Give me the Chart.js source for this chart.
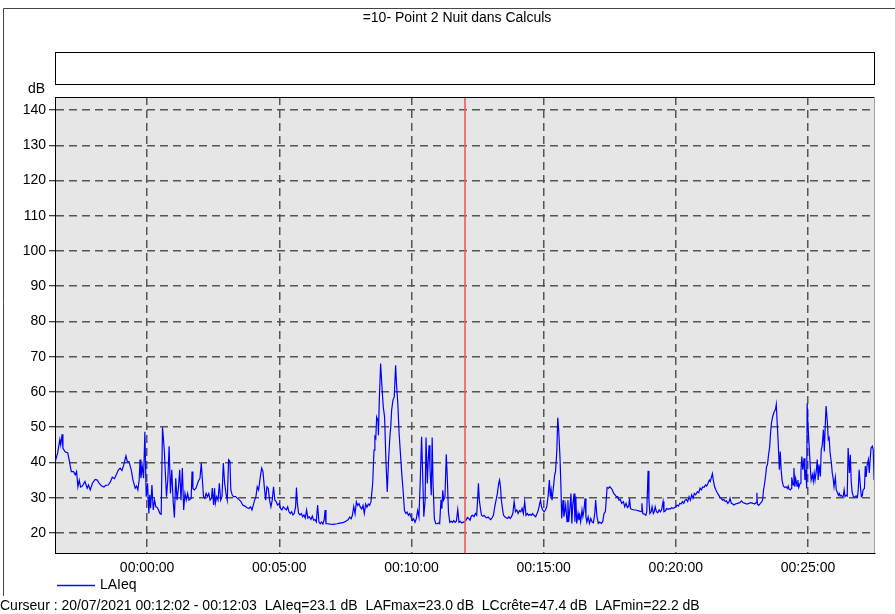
<!DOCTYPE html>
<html>
<head>
<meta charset="utf-8">
<script src="https://cdn.jsdelivr.net/npm/chart.js@4.4.0/dist/chart.umd.min.js"></script>
<style>
  html, body { margin: 0; padding: 0; background: #fff; }
  #wrap { width: 895px; height: 614px; }
</style>
</head>
<body>
<div id="wrap"><canvas id="myChart" width="895" height="614"></canvas></div>
<script>
// time in seconds from 00:00:00
var times = [
  -209,-203,-198,-196,-193,-191,-186,-180,-177,-172,
  -167,-163,-160,-157,-154,-151,-147,-141,-136,-133,
  -129,-124,-118,-113,-109,-103,-98,-94,-88,-83,
  -79,-74,-70,-65,-61,-57,-53,-48,-45,-41,
  -36,-32,-27,-24,-21,-18,-16,-14,-11,-8,
  -5,-2,1,4,6,8,11,14,17,20,
  23,26,29,32,35,39,44,47,50,53,
  56,59,62,65,68,71,74,77,80,83,
  86,89,92,95,
  100,102,104,107,111,116,120,123,126,128,
  131,134,137,140,143,146,148,151,153,155,
  158,161,164,167,170,173,176,179,182,185,
  188,190,193,196,201,205,210,213,217,222,
  226,231,235,238,241,244,247,250,253,257,
  260,263,266,269,272,275,278,281,284,287,
  290,293,296,300,303,306,309,313,316,319,
  322,325,328,331,334,337,339,341,344,347,
  350,353,356,359,362,365,368,372,375,378,
  381,384,387,390,393,396,399,402,404,406,
  411,415,
  423,431,438,446,451,456,460,463,466,469,
  472,475,478,481,484,487,490,493,496,499,
  502,505,508,512,515,517,519,521,524,525,
  527,530,533,536,539,542,545,548,551,553,
  555,558,561,564,566,569,572,575,578,581,
  584,587,590,593,596,599,602,605,608,611,
  614,617,620,623,626,628,631,633,636,638,
  640,642,645,647,649,652,655,658,661,664,
  667,669,671,673,676,679,681,684,687,690,
  693,696,699,702,705,708,711,714,717,722,
  724,727,730,733,736,739,742,745,748,750,
  752,754,757,759,762,765,768,771,774,777,
  780,783,786,789,792,795,798,800,802,804,
  807,809,812,815,818,821,824,827,830,833,
  836,839,842,845,848,851,854,857,860,863,
  866,869,872,875,878,882,885,888,891,893,
  895,898,901,904,907,910,913,915,917,919,
  922,925,927,930,932,934,937,939,941,944,
  946,948,950,953,955,957,959,962,964,966,
  969,971,973,975,978,980,982,984,987,989,
  991,994,996,998,1001,1004,1007,1010,1013,1016,
  1018,1021,1024,1027,
  1031,1034,1037,1040,1042,1044,1047,1050,1053,1056,
  1059,1062,1065,1068,1071,1074,1077,1081,1084,1087,
  1090,1093,1095,1097,1100,1105,1109,1114,1118,1121,
  1123,1125,1129,1132,1134,1137,1139,1141,1144,1146,
  1149,1151,1153,1156,1159,1162,1165,1168,1171,1173,
  1176,1179,1182,1185,1188,1191,1194,1197,1200,1203,
  1206,1209,1212,1215,1218,1221,1224,1227,1230,1233,
  1236,1239,1242,1245,1249,1252,1255,1258,1261,1264,
  1267,1270,1273,1276,1278,1280,1283,1285,1288,1291,
  1294,1297,1300,1303,1306,1309,1312,1315,1318,1321,
  1323,1326,1329,1332,1335,
  1340,1345,1349,1352,1357,1361,1366,1370,1375,1379,
  1382,1384,1385,1388,1392,1395,1397,1399,1401,1404,
  1406,1408,1410,1413,1415,1417,1420,1423,1426,1428,
  1430,1432,1435,1437,1439,1441,1444,1447,1450,1453,
  1455,1457,1460,1462,1463,1466,1468,1470,1472,1475,
  1477,1479,1482,1484,1486,1488,1491,1493,1495,1497,
  1498,1500,1503,1505,1507,1510,1512,1514,1516,1519,
  1521,1523,1525,1528,1530,1532,1535,1537,1539,1541,
  1544,1546,1548,1550,1553,1555,1557,1559,1562,1564,
  1566,1569,1571,1573,1575,1578,1580,1582,1584,1587,
  1589,1591,1594,1596,1598,1600,1603,1605,1607,1609,
  1612,1614,1616,1619,1621,1623,1625,1628,1630,1632,
  1634,1637,1639,1641,1643,1646,1648,1650,1653
];

// LAeq in dB, same order as times
var laeq = [
  40,42.7,46.5,45,48,44,43,42.7,40.8,37.4,
  37.4,36.5,37.4,33.1,35,33,33.3,34.6,32.7,33.6,
  32.2,34.1,35.2,35,34.1,33.3,33,33.5,33.6,34.6,
  35.8,35.4,36.5,37.9,38.4,37.7,39.3,41.9,40.3,40.2,
  37.9,35,32.7,33.3,32.2,35,40.8,35.5,38.9,35.5,
  48.7,30.3,34.1,25.5,30.8,27,33.6,26.5,29.3,27.4,
  27.2,26.5,25.5,25.3,50,43.6,30.3,35,44.6,31.2,
  37.9,29.3,24.4,35.5,29.3,32.6,37.9,29.3,38.4,26.5,
  31.2,29.3,31.2,29.3,
  29.8,37.4,32.6,32.2,32.7,34.6,35.5,39.8,34.1,30.3,
  29.8,31.2,30.3,31.2,29.3,29.8,32.7,27.9,32.7,28.4,
  30.3,29.3,34.1,29.3,30.3,39.8,34.1,31.2,29.3,40.8,
  40.3,32.2,30.8,30.3,30.3,29.8,29.3,28.9,27.9,27.6,
  27.2,26.9,27.4,26.5,27.9,29.3,30.3,33.1,32.2,35.9,
  38.4,37.4,33.1,29.3,33.1,32.6,29.3,27.4,29.3,33.1,
  29.3,28.9,27.9,28.4,26.9,26.5,27.4,26.9,26.5,27.4,
  26,25.5,26,25.1,25.5,27.4,32.9,28.4,25.5,25.1,
  25.5,24.6,25.1,24.2,26.5,24.2,24.6,23.8,24.8,23.6,
  23.8,23.1,27.9,23.1,22.6,23.1,22.5,23.8,26.5,22.6,
  22.6,22.5,
  22.4,22.6,22.8,23,23.3,23.7,24.5,24,25,27.5,
  25.4,28.8,27.8,28.3,27.3,26.8,27.8,25.5,28.2,27.3,
  28.2,27.8,28.8,34,43.5,47.3,46.8,52.9,51.9,47.7,
  57.7,68.1,61.5,55.8,52.9,40.6,31.6,40.6,47.3,50.1,
  54.8,57.7,58.6,67.6,62.4,56.7,48.2,42.5,36.8,32.1,
  26.4,25.5,25.9,25,25.5,24.5,23.5,24,23,24,
  26.4,24.5,35,47.3,34,24.6,29.3,47.1,34,40.6,
  44.9,38.5,30.7,47.1,34,24,22.6,22.6,22.8,22.6,
  29.4,26.9,32.1,29.3,30.2,42.3,36.8,25.9,23,23.3,
  23,23.5,23,23.3,26.6,23,23.3,22.8,23,23.3,
  23.6,24.4,24.1,23.6,24.8,25,24.6,25.5,25,29.3,
  34.1,29.3,26.5,25,24.7,25,24.5,24.3,24.5,24.1,
  23.8,24.3,25,27.4,29.3,31.2,34.1,35,33.1,29.3,
  26.5,25,24.6,24.3,24.1,24.6,24.1,24.6,25.5,28.9,
  26,26.5,25.5,26.3,26,27,25.5,28.9,25,25.5,
  25,25.3,25,25.5,25,24.6,25.5,26.5,28.4,29.3,
  27.4,26.5,26,26.5,27.4,30.3,35,30.3,32.2,29.3,
  32.7,36.5,37.4,43.6,52.7,49.4,41.7,34.1,24.1,29.3,
  24.6,26,27.9,23.2,29.3,23.2,26,31.2,22.7,27.9,
  31.2,23.2,30.3,22.7,25.5,23.6,25,23.2,26.5,24.6,
  26,29.8,24.6,23.1,24.6,22.7,24.1,23.1,22.9,25.5,
  29.3,24.6,22.7,23.1,
  22.7,23.2,25.5,26,29.3,32.9,32.7,33.1,32.7,32.2,
  31.2,30.8,30.3,30.3,29.3,29.5,28.4,28.9,27.4,28.4,
  27.2,27.6,29.8,26.9,26.7,26.5,26.5,26.3,26.2,26,
  28.4,25.5,25.3,25,26,37.6,29.3,25.5,26,27.4,
  25.5,26,27.4,26,25.7,26.5,26,26.7,28.9,26,
  26.2,26.9,26.7,26.9,26.8,27.2,26.9,27.2,27.4,27.9,
  27.6,28.4,28.2,28.9,28.4,29.3,29.5,28.9,30.3,29.3,
  30.8,29.8,31.2,30.8,31.7,31.4,32.7,32.2,33.1,32.9,
  33.6,33.3,34.1,35,34.6,35.5,36.8,35,33.1,32.2,
  31.4,30.8,30.1,29.8,29.3,29.5,28.9,29.1,28.4,28.9,
  29.8,28.4,28.2,27.9,28.2,
  28.4,28.6,29.1,28.6,28.4,28.2,28.4,28.6,28.4,28.2,
  28.6,31.4,28.2,27.8,28.4,28.9,29.3,32.2,33.6,36.5,
  38.9,39.4,41.7,44.5,48.4,51.2,53.1,54.3,55,56.5,
  51.2,46.5,37.9,43.1,37.9,35,33.3,32.9,33.1,32.6,
  33.3,32.4,32.2,32.6,35.8,33.6,38.4,33.1,35.5,33.3,
  35,32.9,34.1,37.9,41.7,37.9,41.2,35,37.9,32.6,
  56.8,50.3,43.6,38.9,35,36.5,34.6,37,35,37.9,
  40.8,35,39.4,36,43.6,44.6,49.3,43.1,50.3,56,
  51.2,46.5,47,42.8,39.9,37,35.5,33.1,35.8,32.2,
  31.7,30.7,31.2,30.5,30.7,30.3,30.5,32.2,30.3,30.7,
  30.5,44.1,37,42.2,34.6,31.7,30.3,30.1,30.3,30.5,
  30.1,32.2,37.9,33.1,30.3,30.5,32.2,32.6,39,35.9,
  39.2,40.8,37,40.8,44.1,44.6,43.6,35,37.9
];

var xTicks = [0, 300, 600, 900, 1200, 1500];
var yTicks = [20, 30, 40, 50, 60, 70, 80, 90, 100, 110, 120, 130, 140];
var cursorTime = 722; // 00:12:02
var titleText = '=10- Point 2 Nuit dans Calculs';
var footerText = 'Curseur : 20/07/2021 00:12:02 - 00:12:03  LAIeq=23.1 dB  LAFmax=23.0 dB  LCcr\u00eate=47.4 dB  LAFmin=22.2 dB';

var FONT = '"Liberation Sans", Arial, sans-serif';

function hms(s) {
  var m = Math.floor(s / 60), r = s - m * 60;
  return '00:' + String(m).padStart(2, '0') + ':' + String(r).padStart(2, '0');
}

var points = [];
for (var i = 0; i < Math.min(times.length, laeq.length); i++) {
  points.push({ x: times[i], y: laeq[i] });
}

var decor = {
  id: 'decor',
  beforeDraw: function (chart) {
    var c = chart.ctx, a = chart.chartArea;
    c.save();
    c.fillStyle = '#e6e6e6';
    c.fillRect(a.left, a.top, a.right - a.left, a.bottom - a.top);
    c.restore();
  },
  afterDatasetsDraw: function (chart) {
    var c = chart.ctx, a = chart.chartArea;
    var x = Math.round(chart.scales.x.getPixelForValue(cursorTime));
    c.save();
    c.strokeStyle = '#f05a5a';
    c.lineWidth = 1.6;
    c.beginPath();
    c.moveTo(x, a.top);
    c.lineTo(x, a.bottom);
    c.stroke();
    c.restore();
  },
  afterDraw: function (chart) {
    var c = chart.ctx, a = chart.chartArea;
    c.save();
    // plot frame top / right
    c.lineWidth = 1;
    c.strokeStyle = '#000';
    c.beginPath();
    c.moveTo(a.left, a.top + 0.5);
    c.lineTo(a.right, a.top + 0.5);
    c.stroke();
    c.strokeStyle = '#a0a0a0';
    c.beginPath();
    c.moveTo(a.right - 0.5, a.top);
    c.lineTo(a.right - 0.5, a.bottom);
    c.stroke();

    // outer frame
    c.strokeStyle = '#444';
    c.beginPath();
    c.moveTo(895, 8.5);
    c.lineTo(3.5, 8.5);
    c.lineTo(3.5, 596);
    c.stroke();

    // empty box under the title
    c.fillStyle = '#fff';
    c.fillRect(a.left, 52, a.right - a.left, 32);
    c.strokeStyle = '#000';
    c.strokeRect(a.left + 0.5, 52.5, a.right - a.left - 1, 32);

    c.fillStyle = '#000';
    c.font = '14px ' + FONT;
    c.textBaseline = 'middle';
    c.textAlign = 'center';
    c.fillText(titleText, 457, 18);

    c.textAlign = 'left';
    c.fillText('dB', 28, 89);

    // legend
    c.strokeStyle = '#1010ff';
    c.lineWidth = 1.3;
    c.beginPath();
    c.moveTo(57, 585.5);
    c.lineTo(95, 585.5);
    c.stroke();
    c.fillText('LAIeq', 100, 585);

    c.fillText(footerText, 0, 606);
    c.restore();
  }
};

var ctx = document.getElementById('myChart');

var myChart = new Chart(ctx, {
  type: 'line',
  data: {
    datasets: [{
      label: 'LAIeq',
      data: points,
      borderColor: '#0000ff',
      borderWidth: 1.2,
      pointRadius: 0,
      tension: 0,
      fill: false
    }]
  },
  options: {
    responsive: false,
    animation: false,
    devicePixelRatio: 1,
    layout: { padding: { top: 97, left: 0, right: 20, bottom: 0 } },
    plugins: {
      legend: { display: false },
      tooltip: { enabled: false }
    },
    scales: {
      x: {
        type: 'linear',
        min: -209,
        max: 1652,
        afterBuildTicks: function (scale) {
          scale.ticks = xTicks.map(function (v) { return { value: v }; });
        },
        afterFit: function (scale) { scale.height = 61; },
        ticks: {
          autoSkip: false,
          maxRotation: 0,
          padding: 7,
          color: '#000',
          font: { family: FONT, size: 14 },
          callback: function (v) { return hms(v); }
        },
        grid: {
          color: '#555555',
          lineWidth: 1.5,
          drawTicks: false
        },
        border: { display: true, color: '#000', width: 1, dash: [8, 5] }
      },
      y: {
        type: 'linear',
        min: 14.3,
        max: 143.7,
        afterBuildTicks: function (scale) {
          scale.ticks = yTicks.map(function (v) { return { value: v }; });
        },
        afterFit: function (scale) { scale.width = 55; },
        ticks: {
          padding: 3,
          color: '#000',
          font: { family: FONT, size: 14 }
        },
        grid: {
          color: '#555555',
          lineWidth: 1.5,
          tickLength: 6,
          tickColor: '#000',
          tickWidth: 1,
          tickBorderDash: []
        },
        border: { display: true, color: '#000', width: 1, dash: [8, 5] }
      }
    }
  },
  plugins: [decor]
});
</script>
</body>
</html>
